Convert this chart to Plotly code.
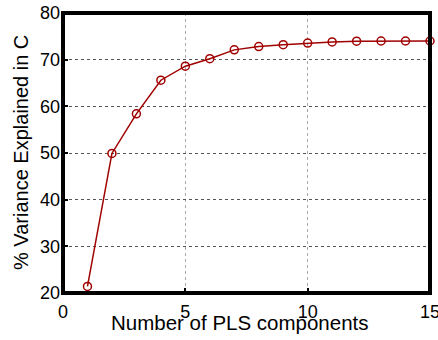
import plotly.graph_objects as go

components = list(range(1, 16))
variance = [21.4, 49.9, 58.4, 65.6, 68.6, 70.2, 72.1, 72.8, 73.2, 73.55, 73.8, 73.95, 74.0, 74.0, 74.0]

x_ticks = [0, 5, 10, 15]
y_ticks = [20, 30, 40, 50, 60, 70, 80]

fig = go.Figure()
fig.add_trace(go.Scatter(
    x=components, y=variance, mode="lines+markers",
    line=dict(color="#a00000", width=1.5),
    marker=dict(symbol="circle-open", size=8, color="#a00000", line=dict(width=1.5)),
    showlegend=False, cliponaxis=False,
))

font = dict(family="Liberation Sans, Arial, Helvetica, sans-serif", color="black")
fig.update_layout(
    width=438, height=340,
    margin=dict(l=63, r=8, t=13, b=47),
    paper_bgcolor="white", plot_bgcolor="white",
    font=dict(size=18, **font),
    shapes=[dict(type="rect", xref="paper", yref="paper", x0=0, x1=1, y0=0, y1=1,
                 line=dict(color="black", width=4), layer="above")],
    annotations=[
        dict(text="Number of PLS components", xref="paper", yref="paper",
             x=0.5, xshift=-7, y=0, yshift=-29, showarrow=False,
             xanchor="center", yanchor="middle", font=dict(size=20.5)),
        dict(text="% Variance Explained in C", xref="paper", yref="paper",
             x=0, xshift=-42, y=0.5, showarrow=False, textangle=-90,
             xanchor="center", yanchor="middle", font=dict(size=20)),
    ],
)
fig.update_xaxes(
    range=[0, 15], tickvals=x_ticks, ticktext=[str(v) for v in x_ticks],
    showline=False, mirror=True, automargin=False, ticklabeloverflow="allow",
    ticks="inside", ticklen=5, tickwidth=1.5, tickcolor="black", ticklabelstandoff=6,
    showgrid=True, gridcolor="#aaaaaa", griddash="dot", gridwidth=1,
    zeroline=False, tickfont=dict(size=18),
)
fig.update_yaxes(
    range=[20, 80], tickvals=y_ticks, ticktext=[str(v) for v in y_ticks],
    showline=False, mirror=True, automargin=False, ticklabeloverflow="allow",
    ticks="inside", ticklen=5, tickwidth=1.5, tickcolor="black", ticklabelstandoff=2,
    showgrid=True, gridcolor="#555555", griddash="dot", gridwidth=1,
    zeroline=False, tickfont=dict(size=18),
)

fig.write_html("out.html", config={"displayModeBar": False},
               post_script="document.body.style.margin='0';")
